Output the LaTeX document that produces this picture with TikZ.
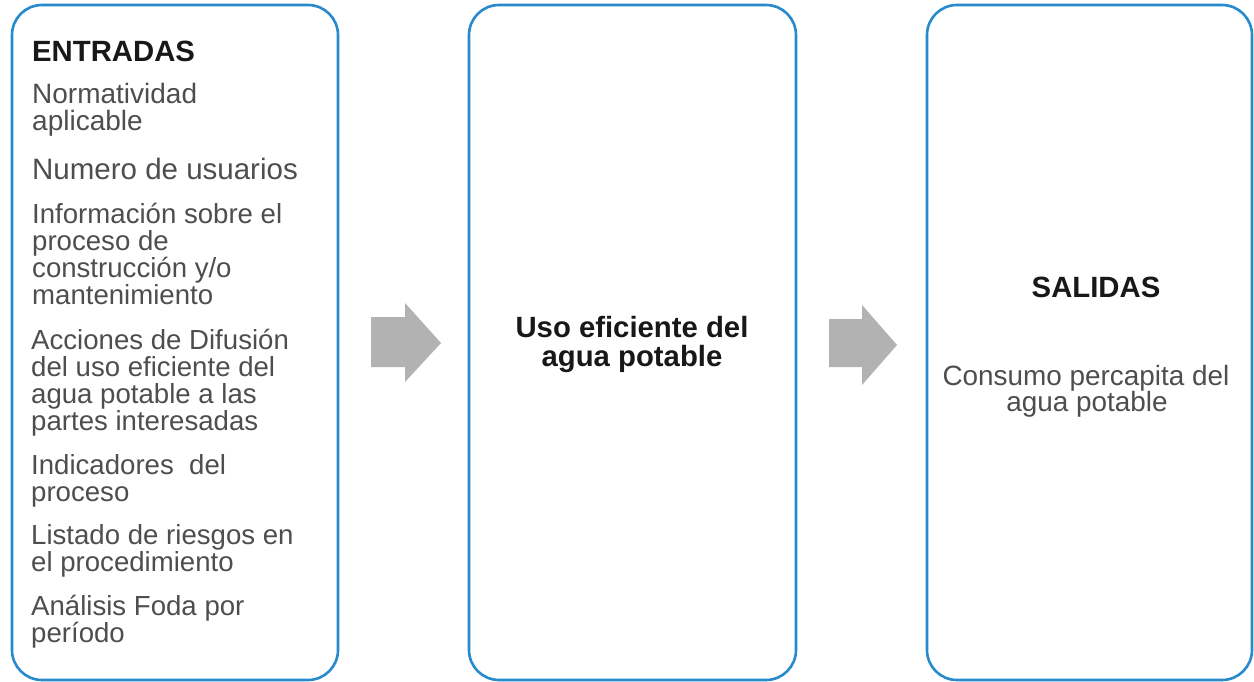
\documentclass[tikz,border=0pt]{standalone}
\usepackage{fontspec}
\setmainfont{Liberation Sans}
\definecolor{boxblue}{RGB}{38,138,204}
\definecolor{lighttext}{RGB}{78,78,78}
\definecolor{boldtext}{RGB}{24,24,24}
\definecolor{arrowgray}{RGB}{178,178,178}
\begin{document}
\begin{tikzpicture}[x=1pt,y=-1pt,
  panel/.style={draw=boxblue, line width=2.6pt, rounded corners=30pt, fill=white, inner sep=0pt},
  lt/.style={anchor=base west, inner sep=0pt, text=lighttext, font=\fontsize{27.6}{28}\selectfont},
  ltc/.style={anchor=base, inner sep=0pt, text=lighttext, font=\fontsize{27.9}{28}\selectfont},
  hd/.style={inner sep=0pt, text=boldtext, font=\bfseries\fontsize{29.3}{30}\selectfont},
  blockarrow/.style={fill=arrowgray, draw=none}]
\useasboundingbox (0,0) rectangle (1254,682);
\fill[white] (0,0) rectangle (1254,682);
% panels
\node[panel, minimum width=326pt, minimum height=675pt] (inp) at (175,342.5) {};
\node[panel, minimum width=327pt, minimum height=675pt] (proc) at (632.5,342.5) {};
\node[panel, minimum width=325pt, minimum height=675pt] (outp) at (1089.5,342.5) {};
% block arrows
\fill[blockarrow] (371,317) -- (405,317) -- (405,303) -- (441,343) -- (405,382) -- (405,367) -- (371,367) -- cycle;
\fill[blockarrow] (829,319) -- (862,319) -- (862,305) -- (897,345) -- (862,385) -- (862,367) -- (829,367) -- cycle;
% left texts
\node[hd, anchor=base west] (h1) at (32,62) {ENTRADAS};
\node[lt, font=\fontsize{28}{28}\selectfont] (l1) at (32,104) {Normatividad};
\node[lt, font=\fontsize{28}{28}\selectfont] (l2) at (32,131) {aplicable};
\node[lt, font=\fontsize{29.5}{30}\selectfont] (l3) at (32,179) {Numero de usuarios};
\node[lt] (l4) at (32,223) {Información sobre el};
\node[lt] (l5) at (32,250) {proceso de};
\node[lt] (l6) at (32,277) {construcción y/o};
\node[lt] (l7) at (32,304) {mantenimiento};
\node[lt] (l8) at (31,349) {Acciones de Difusión};
\node[lt] (l9) at (31,376) {del uso eficiente del};
\node[lt] (l10) at (31,403) {agua potable a las};
\node[lt] (l11) at (31,430) {partes interesadas};
\node[lt] (l12) at (31,474) {Indicadores\ \ del};
\node[lt] (l13) at (31,501) {proceso};
\node[lt] (l14) at (31,544) {Listado de riesgos en};
\node[lt] (l15) at (31,571) {el procedimiento};
\node[lt] (l16) at (31,615) {Análisis Foda por};
\node[lt] (l17) at (31,642) {período};
% middle
\node[hd, anchor=base] (m1) at (632,337) {Uso eficiente del};
\node[hd, anchor=base] (m2) at (632,366) {agua potable};
% right
\node[hd, anchor=base] (r0) at (1096,297) {SALIDAS};
\node[ltc] (r1) at (1086,385) {Consumo percapita del};
\node[ltc] (r2) at (1087,411) {agua potable};
\end{tikzpicture}
\end{document}
